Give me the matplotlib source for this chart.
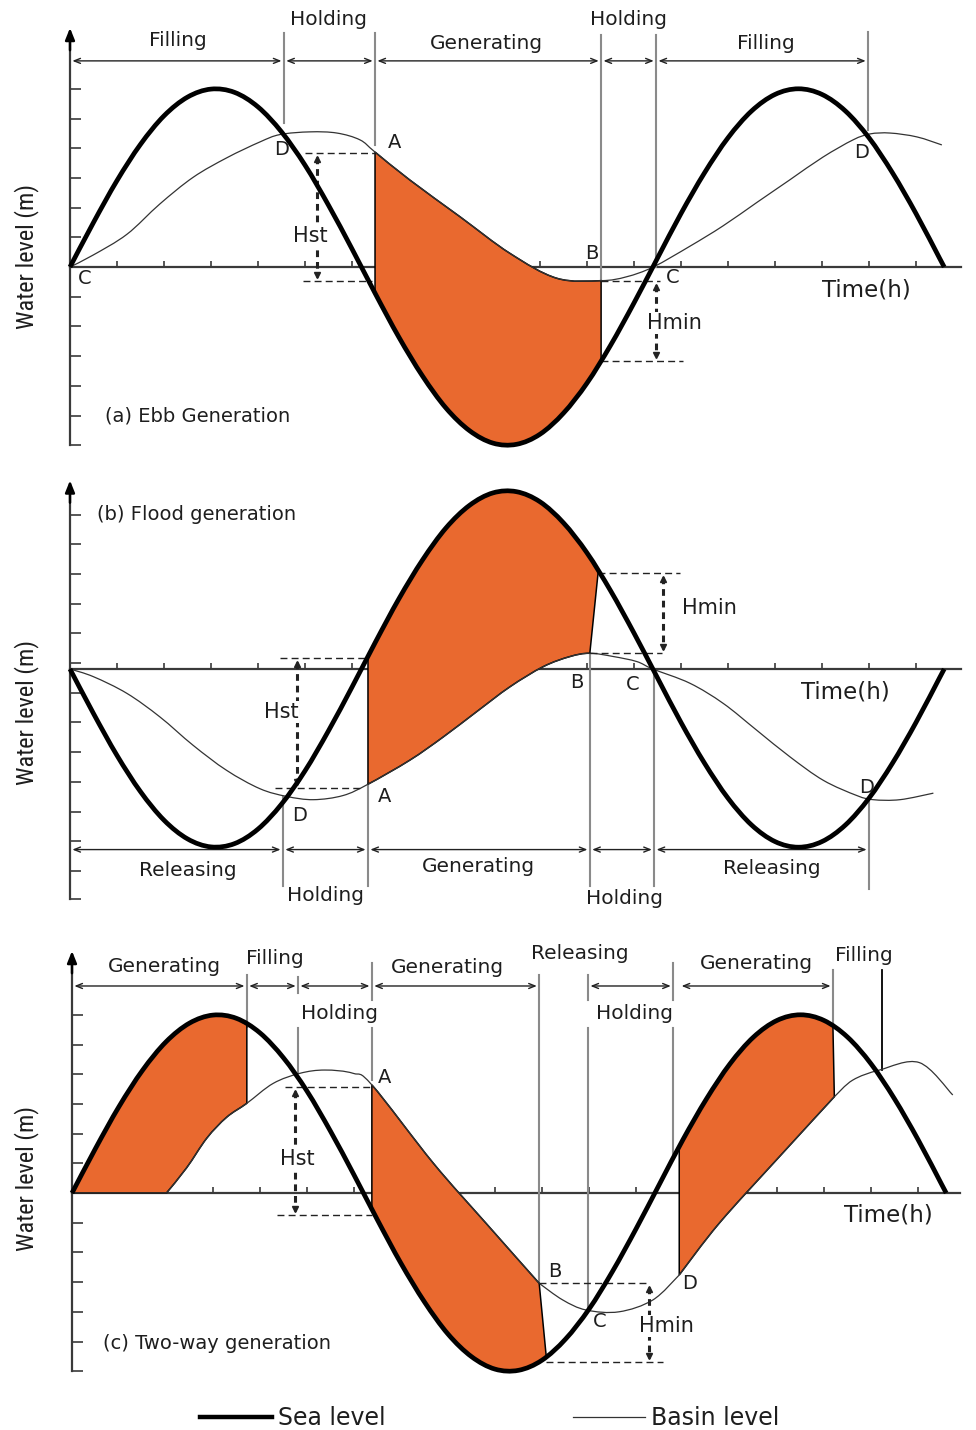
import numpy as np
import matplotlib
matplotlib.use("Agg")
import matplotlib.pyplot as plt
from matplotlib.lines import Line2D
from matplotlib.path import Path
from matplotlib.patches import PathPatch

plt.rcParams["font.family"] = ["DejaVu Sans"]

W, H = 976, 1430
PX_PER_HOUR = 47.0
PX_PER_M = 29.7

ORANGE = "#E9692F"
GRAY = "#8a8a8a"
AXIS_COLOR = "#3a3a3a"
TEXT_COLOR = "#1e1e1e"

# sea level, hours from the start of the record
HOURS = [0, 0.5, 1.0, 1.5, 2.0, 2.5, 3.0, 3.5, 4.0, 4.5, 5.0, 5.5, 6.0, 6.5,
         7.0, 7.5, 8.0, 8.5, 9.0, 9.5, 10.0, 10.5, 11.0, 11.5, 12.0, 12.5,
         13.0, 13.5, 14.0, 14.5, 15.0, 15.5, 16.0, 16.5, 17.0, 17.5, 18.0,
         18.5, 18.6]
SEA_EBB = [0.00, 1.50, 2.91, 4.13, 5.09, 5.72, 5.99, 5.88, 5.39, 4.55, 3.43,
           2.08, 0.61, -0.91, -2.37, -3.67, -4.75, -5.51, -5.93, -5.97, -5.63,
           -4.92, -3.91, -2.64, -1.21, 0.30, 1.80, 3.17, 4.35, 5.25, 5.81,
           6.00, 5.81, 5.25, 4.35, 3.17, 1.80, 0.30, 0.00]
SEA_FLOOD = [0.00, -1.50, -2.91, -4.13, -5.09, -5.72, -5.99, -5.88, -5.39,
             -4.55, -3.43, -2.08, -0.61, 0.91, 2.37, 3.67, 4.75, 5.51, 5.93,
             5.97, 5.63, 4.92, 3.91, 2.64, 1.21, -0.30, -1.80, -3.17, -4.35,
             -5.25, -5.81, -6.00, -5.81, -5.25, -4.35, -3.17, -1.80, -0.30,
             0.00]
SEA_TWOWAY = SEA_EBB

# basin level
BASIN_EBB_T = [0, 0.49, 1.21, 1.91, 2.62, 3.34, 4.04, 4.47, 5.11, 5.68, 6.17,
               6.49, 7.23, 8.30, 9.36, 10.36, 11.30, 11.84, 12.41, 13.19,
               13.89, 14.62, 15.32, 16.02, 16.66, 17.02, 17.45, 18.02, 18.55]
BASIN_EBB_H = [0, 0.40, 1.10, 2.12, 3.02, 3.68, 4.21, 4.46, 4.55, 4.51, 4.28,
               3.87, 2.93, 1.69, 0.46, -0.38, -0.46, -0.33, 0.00, 0.70, 1.38,
               2.18, 2.94, 3.70, 4.28, 4.48, 4.51, 4.38, 4.11]

BASIN_FLOOD_T = [0, 0.50, 1.21, 1.91, 2.62, 3.33, 4.04, 4.61, 5.18, 5.81,
                 6.34, 7.23, 7.94, 8.65, 9.36, 10.07, 10.64, 11.06, 11.56,
                 12.06, 12.40, 13.19, 13.90, 14.61, 15.32, 16.03, 16.74,
                 17.09, 17.66, 18.37]
BASIN_FLOOD_H = [0, -0.26, -0.82, -1.61, -2.57, -3.41, -4.03, -4.29, -4.40,
                 -4.26, -3.88, -3.07, -2.29, -1.44, -0.60, 0.08, 0.42, 0.53,
                 0.42, 0.25, 0.00, -0.48, -1.16, -2.06, -2.96, -3.75, -4.26,
                 -4.40, -4.40, -4.18]

BASIN_TWOWAY_T = [0, 2.01, 2.44, 2.87, 3.29, 3.72, 4.28, 4.85, 5.38, 5.98,
                  6.38, 7.69, 8.81, 9.94, 10.44, 10.94, 11.64, 12.36, 12.92,
                  13.77, 15.05, 16.22, 16.61, 17.18, 18.03, 18.74]
BASIN_TWOWAY_H = [0, 0, 0.85, 1.85, 2.55, 3.02, 3.69, 4.03, 4.14, 4.03, 3.64,
                  1.00, -1.02, -3.04, -3.60, -3.94, -4.00, -3.60, -2.76,
                  -1.02, 1.22, 3.24, 3.80, 4.14, 4.39, 3.30]
# sharp corners of the two-way basin curve (sluice/turbine switching)
TWOWAY_CORNERS = [2.01, 9.94, 12.92, 16.22]

TICK_HOURS = list(range(1, 19))
LEVEL_TICKS = [-6, -5, -4, -3, -2, -1, 0, 1, 2, 3, 4, 5, 6]
FLOOD_LEVEL_TICKS = [5.2, 4.2, 3.2, 2.2, 1.2, 0.2, -0.8, -1.8, -2.8, -3.8,
                     -4.8, -5.8, -6.8, -7.75]

# operating phases: (label, start h, end h)
EBB_PHASES = [("Filling", 0.0, 4.55), ("Holding", 4.55, 6.49),
              ("Generating", 6.49, 11.30), ("Holding", 11.30, 12.47),
              ("Filling", 12.47, 16.98)]
FLOOD_PHASES = [("Releasing", 0.0, 4.53), ("Holding", 4.53, 6.34),
                ("Generating", 6.34, 11.06), ("Holding", 11.06, 12.43),
                ("Releasing", 12.43, 17.0)]
TWOWAY_PHASES = [("Generating", 0.0, 3.72), ("Filling", 3.72, 4.81),
                 ("Holding", 4.81, 6.38), ("Generating", 6.38, 9.94),
                 ("Holding", 10.98, 12.79), ("Generating", 12.92, 16.19)]


def curve_segments(ts, hs, corners=()):
    """Cubic segments (p1, c1, c2, p2) passing through every read point."""
    p = np.column_stack([ts, hs]).astype(float)
    n = len(p)
    cuts = sorted({0, n - 1} | {i for i, t in enumerate(ts) if t in corners})
    segs = []
    for a, b in zip(cuts[:-1], cuts[1:]):
        for i in range(a, b):
            p0 = p[max(i - 1, a)]
            p1, p2 = p[i], p[i + 1]
            p3 = p[min(i + 2, b)]
            segs.append((p1, p1 + (p2 - p0) / 6, p2 - (p3 - p1) / 6, p2))
    return segs


def segs_to_path(segs):
    verts = [segs[0][0]]
    codes = [Path.MOVETO]
    for _, c1, c2, p2 in segs:
        verts += [c1, c2, p2]
        codes += [Path.CURVE4] * 3
    return Path(verts, codes)


def make_panel(fig, top, bottom, x0, y0):
    ax = fig.add_axes([0, 1 - bottom / H, 1, (bottom - top) / H])
    ax.set_xlim(-x0 / PX_PER_HOUR, (W - x0) / PX_PER_HOUR)
    ax.set_ylim((y0 - bottom) / PX_PER_M, (y0 - top) / PX_PER_M)
    ax.patch.set_visible(False)
    for side in ("top", "right"):
        ax.spines[side].set_visible(False)
    return ax


def draw_frame(ax, y_lo, y_hi, y_ticks, x_end):
    ax.spines["left"].set_position(("data", 0))
    ax.spines["bottom"].set_position(("data", 0))
    ax.spines["left"].set_bounds(y_lo, y_hi)
    ax.spines["bottom"].set_bounds(0, x_end)
    for side in ("left", "bottom"):
        ax.spines[side].set_color(AXIS_COLOR)
        ax.spines[side].set_linewidth(1.6)
    ax.set_xticks(TICK_HOURS)
    ax.set_yticks(y_ticks)
    ax.tick_params(axis="x", direction="in", length=4, width=1.2,
                   color=AXIS_COLOR, labelbottom=False)
    ax.tick_params(axis="y", direction="in", length=8, width=1.2,
                   color=AXIS_COLOR, labelleft=False)
    head = dict(arrowstyle="-|>,head_length=0.7,head_width=0.28", color="black",
                lw=1.8, shrinkA=0, shrinkB=0)
    ax.annotate("", xy=(0, y_hi + 0.45), xytext=(0, y_hi - 0.3), arrowprops=head)
    ax.annotate("", xy=(x_end + 0.35, 0), xytext=(x_end - 0.6, 0), arrowprops=head)


def fill_generation(ax, sea, b_t, b_h, t0, t1_basin, t1_sea, corners=()):
    hours = np.asarray(HOURS, dtype=float)
    sea = np.asarray(sea, dtype=float)
    b_segs = curve_segments(b_t, b_h, corners)
    s_segs = curve_segments(HOURS, sea)
    i0, i1 = list(b_t).index(t0), list(b_t).index(t1_basin)
    inside = np.where((hours > t0) & (hours < t1_sea))[0]
    k_lo, k_hi = inside[0], inside[-1]

    start = (t0, np.interp(t0, hours, sea))
    verts = [start, (b_t[i0], b_h[i0])]
    codes = [Path.MOVETO, Path.LINETO]
    for _, c1, c2, p2 in b_segs[i0:i1]:
        verts += [c1, c2, p2]
        codes += [Path.CURVE4] * 3
    verts += [(t1_sea, np.interp(t1_sea, hours, sea)), (hours[k_hi], sea[k_hi])]
    codes += [Path.LINETO, Path.LINETO]
    for j in range(k_hi - 1, k_lo - 1, -1):
        p1, c1, c2, _ = s_segs[j]
        verts += [c2, c1, p1]
        codes += [Path.CURVE4] * 3
    verts += [start, start]
    codes += [Path.LINETO, Path.CLOSEPOLY]
    ax.add_patch(PathPatch(Path(verts, codes), facecolor=ORANGE,
                           edgecolor="black", lw=1.1, zorder=3))


def draw_curves(ax, sea, b_t, b_h, corners=()):
    ax.add_patch(PathPatch(segs_to_path(curve_segments(b_t, b_h, corners)),
                           fill=False, edgecolor="#333333", lw=0.9, zorder=3.5))
    ax.add_patch(PathPatch(segs_to_path(curve_segments(HOURS, sea)),
                           fill=False, edgecolor="black", lw=3.4, zorder=4,
                           capstyle="butt", joinstyle="round"))


def draw_marks(ax, marks, color=GRAY, lw=1.5):
    for t, h0, h1 in marks:
        ax.plot([t, t], [h0, h1], color=color, lw=lw, zorder=2.8)


def draw_phase_arrows(ax, phases, level):
    for _, t0, t1 in phases:
        ax.annotate("", xy=(t1 - 0.05, level), xytext=(t0 + 0.05, level),
                    arrowprops=dict(arrowstyle="<->,head_length=0.45,head_width=0.18",
                                    color="#222222", lw=1.0, shrinkA=0, shrinkB=0))


def draw_head_range(ax, t, h_top, h_bot, top_line, bot_line):
    dash = dict(color="#222222", lw=1.0, ls=(0, (5, 3)), zorder=3.6)
    ax.plot(top_line, [h_top, h_top], **dash)
    ax.plot(bot_line, [h_bot, h_bot], **dash)
    ax.plot([t, t], [h_top - 0.15, h_bot + 0.15], color="#222222", lw=2.2,
            ls=(0, (2.2, 1.6)), zorder=3.6)
    ax.plot([t], [h_top - 0.2], marker="^", ms=5, color="#222222", zorder=3.6)
    ax.plot([t], [h_bot + 0.2], marker="v", ms=5, color="#222222", zorder=3.6)


def label(ax, t, h, s, size=14.5, **kw):
    kw.setdefault("ha", "center")
    ax.text(t, h, s, fontsize=size, va="center", color=TEXT_COLOR, zorder=6, **kw)


def head_label(ax, t, h, s):
    label(ax, t, h, s, 15, bbox=dict(boxstyle="square,pad=0.05", fc="white",
                                      ec="none"))


def ylabel(ax, t, h):
    ax.text(t, h, "Water level (m)", rotation=90, ha="center", va="center",
            fontsize=17.5, color=TEXT_COLOR,
            family=["Roboto Condensed", "Liberation Sans"])


fig = plt.figure(figsize=(W / 100, H / 100), dpi=100)

# (a) ebb generation
ax = make_panel(fig, 0, 462, 70, 267)
draw_frame(ax, -6.0, 7.6, LEVEL_TICKS, 18.95)
fill_generation(ax, SEA_EBB, BASIN_EBB_T, BASIN_EBB_H, 6.49, 11.30, 11.30)
draw_marks(ax, [(4.55, 7.88, 4.85), (6.49, 7.88, 4.10), (11.30, 7.80, -0.46),
                (12.47, 7.80, 0.0), (16.98, 7.90, 4.60)])
draw_curves(ax, SEA_EBB, BASIN_EBB_T, BASIN_EBB_H)
draw_phase_arrows(ax, EBB_PHASES, 6.94)
draw_head_range(ax, 5.26, 3.84, -0.47, [5.0, 6.49], [4.96, 6.43])
draw_head_range(ax, 12.47, -0.47, -3.16, [11.30, 12.55], [11.30, 13.04])
for s, t, h in [("Filling", 2.30, 7.61), ("Holding", 5.49, 8.32),
                ("Generating", 8.87, 7.54), ("Holding", 11.89, 8.35),
                ("Filling", 14.81, 7.54)]:
    label(ax, t, h, s)
for s, t, h in [("D", 4.51, 3.94), ("A", 6.91, 4.18), ("C", 0.32, -0.40),
                ("B", 11.11, 0.47), ("C", 12.83, -0.37), ("D", 16.85, 3.87)]:
    label(ax, t, h, s, 14)
head_label(ax, 5.11, 1.04, "Hst")
head_label(ax, 12.85, -1.89, "Hmin")
label(ax, 16.94, -0.77, "Time(h)", 16.5)
label(ax, 0.74, -5.02, "(a) Ebb Generation", 14, ha="left")
ylabel(ax, -0.915, 0.34)

# (b) flood generation
ax = make_panel(fig, 462, 925, 70, 669)
draw_frame(ax, -7.75, 5.9, FLOOD_LEVEL_TICKS, 18.95)
fill_generation(ax, SEA_FLOOD, BASIN_FLOOD_T, BASIN_FLOOD_H, 6.34, 11.06, 11.24)
draw_marks(ax, [(4.53, -4.30, -7.30), (6.34, -3.88, -7.30), (11.06, 0.53, -7.30),
                (12.43, 0.0, -7.30), (17.0, -4.40, -7.40)])
draw_curves(ax, SEA_FLOOD, BASIN_FLOOD_T, BASIN_FLOOD_H)
draw_phase_arrows(ax, FLOOD_PHASES, -6.08)
draw_head_range(ax, 4.83, 0.37, -3.99, [4.47, 6.34], [4.36, 6.23])
draw_head_range(ax, 12.62, 3.24, 0.54, [11.24, 12.98], [11.06, 12.60])
for s, t, h in [("Releasing", 2.51, -6.79), ("Holding", 5.43, -7.64),
                ("Generating", 8.70, -6.66), ("Holding", 11.79, -7.74),
                ("Releasing", 14.94, -6.72)]:
    label(ax, t, h, s)
for s, t, h in [("D", 4.89, -4.93), ("A", 6.70, -4.29), ("B", 10.79, -0.44),
                ("C", 11.98, -0.51), ("D", 16.94, -3.99)]:
    label(ax, t, h, s, 14)
head_label(ax, 4.49, -1.45, "Hst")
head_label(ax, 13.60, 2.06, "Hmin")
label(ax, 16.49, -0.78, "Time(h)", 16.5)
label(ax, 0.57, 5.20, "(b) Flood generation", 14, ha="left")
ylabel(ax, -0.915, -1.45)

# (c) two-way generation
ax = make_panel(fig, 925, 1395, 72, 1193)
draw_frame(ax, -6.0, 7.7, LEVEL_TICKS, 18.9)
for t0, t1_b, t1_s in [(0.0, 3.72, 3.72), (6.38, 9.94, 10.09), (12.92, 16.22, 16.19)]:
    fill_generation(ax, SEA_TWOWAY, BASIN_TWOWAY_T, BASIN_TWOWAY_H,
                    t0, t1_b, t1_s, TWOWAY_CORNERS)
draw_marks(ax, [(3.72, 7.34, 5.60), (4.81, 7.28, 6.73), (4.81, 5.56, 4.04),
                (6.38, 7.74, 6.50), (6.38, 5.56, 3.80), (9.94, 7.34, -3.04),
                (10.98, 7.34, 6.50), (10.98, 5.56, -3.90), (12.79, 7.74, 6.50),
                (12.79, 5.56, 1.20), (16.19, 7.50, 5.60)])
draw_marks(ax, [(17.23, 7.50, 4.14)], color="black", lw=1.3)
draw_curves(ax, SEA_TWOWAY, BASIN_TWOWAY_T, BASIN_TWOWAY_H, TWOWAY_CORNERS)
draw_phase_arrows(ax, TWOWAY_PHASES, 6.97)
draw_head_range(ax, 4.74, 3.57, -0.74, [4.53, 6.38], [4.36, 6.38])
draw_head_range(ax, 12.28, -3.03, -5.69, [9.94, 12.28], [10.09, 12.57])
for s, t, h in [("Generating", 1.96, 7.64), ("Filling", 4.32, 7.91),
                ("Holding", 5.70, 6.06), ("Generating", 7.98, 7.58),
                ("Releasing", 10.81, 8.08), ("Holding", 11.96, 6.06),
                ("Generating", 14.57, 7.74), ("Filling", 16.85, 8.01)]:
    label(ax, t, h, s)
for s, t, h in [("A", 6.66, 3.90), ("B", 10.28, -2.63), ("D", 13.15, -3.06),
                ("C", 11.23, -4.34)]:
    label(ax, t, h, s, 14)
head_label(ax, 4.79, 1.14, "Hst")
head_label(ax, 12.64, -4.48, "Hmin")
label(ax, 17.36, -0.74, "Time(h)", 16.5)
label(ax, 0.66, -5.08, "(c) Two-way generation", 14, ha="left")
ylabel(ax, -0.96, 0.50)

handles = [Line2D([], [], color="black", lw=3.2),
           Line2D([], [], color="#333333", lw=0.9)]
fig.legend(handles, ["Sea level", "Basin level"], loc="center left",
           bbox_to_anchor=(200 / W, 1 - 1418 / H), ncol=2, frameon=False,
           fontsize=17, handlelength=3.05, handletextpad=0.25,
           columnspacing=7.95, borderpad=0, borderaxespad=0,
           labelcolor=TEXT_COLOR)

fig.savefig("out.png", dpi=100)
